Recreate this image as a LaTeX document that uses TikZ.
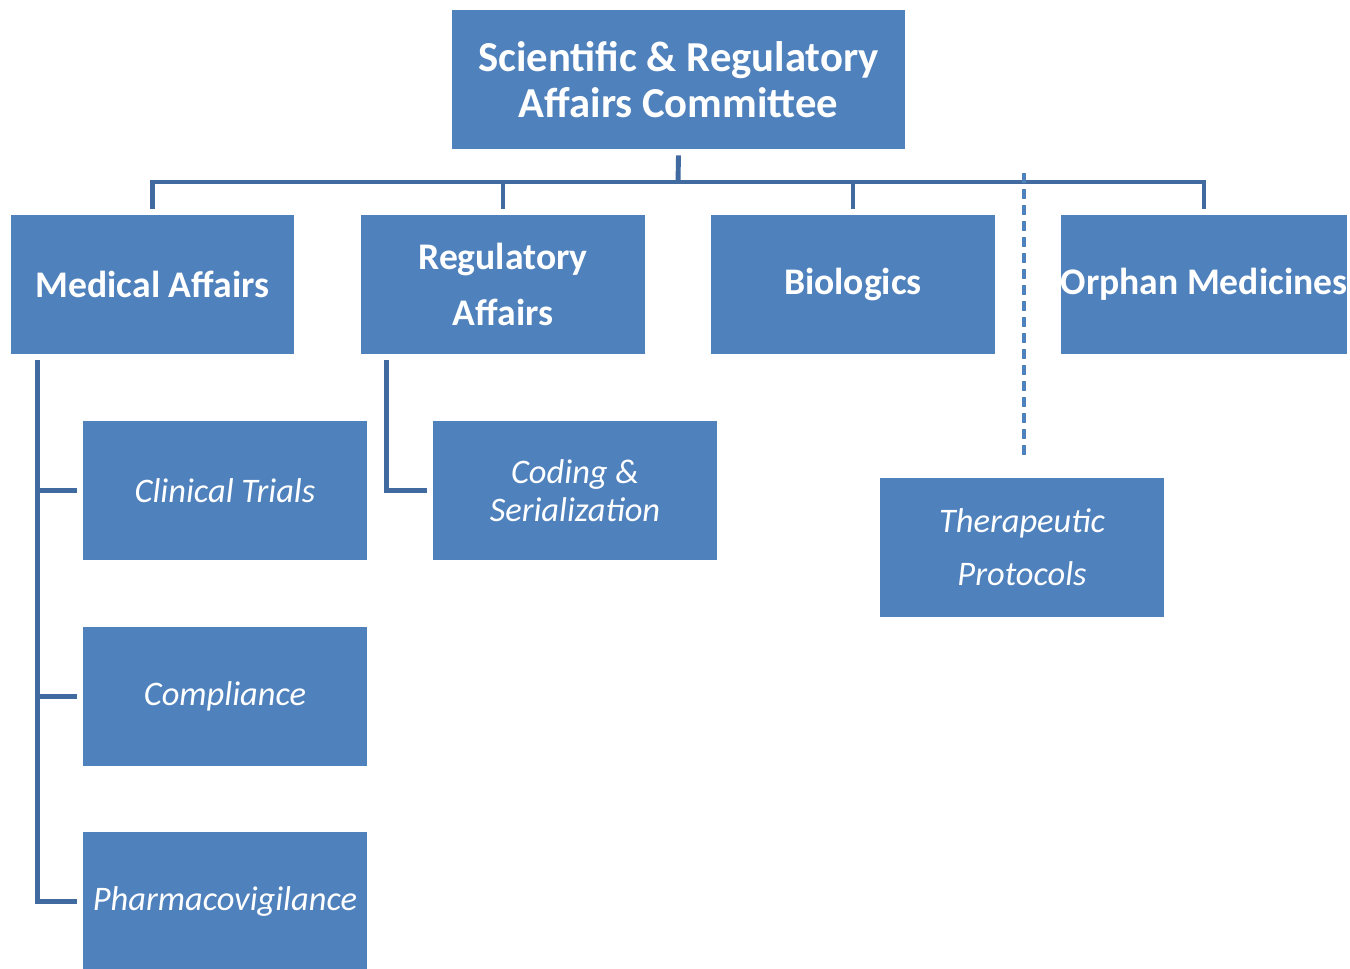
\documentclass[tikz,border=0pt]{standalone}
\usepackage{fontspec}
\setmainfont{Carlito}
\usepackage{tikz}
\usetikzlibrary{positioning}
\definecolor{boxBlue}{RGB}{79,129,189}
\definecolor{lineBlue}{RGB}{65,107,160}

\tikzset{
  unit/.style={fill=boxBlue, text=white,
    minimum width=5.68cm, minimum height=2.78cm, align=center, inner sep=0pt},
  head/.style={unit, font=\bfseries\fontsize{21.4}{25}\selectfont},
  sub/.style={unit, font=\itshape\fontsize{19.6}{23}\selectfont},
  conn/.style={draw=lineBlue, line width=2.8pt},
  dashline/.style={draw=boxBlue, line width=1.8pt, dash pattern=on 0.2cm off 0.12cm}
}

\begin{document}
\begin{tikzpicture}[x=0.02cm, y=-0.02cm]
  \useasboundingbox (0,0) rectangle (1350,969);

  % Committee
  \node[head, minimum width=9.06cm, font=\bfseries\fontsize{24.3}{26.5}\selectfont] (top) at (678.5,79.5)
    {Scientific \& Regulatory\\Affairs Committee};

  % Working groups
  \node[head] (medaff) at (152.5,284.5) {Medical Affairs};
  \node[head, font=\bfseries\fontsize{21.4}{32}\selectfont] (regaff) at (503,284.5) {Regulatory\\Affairs};
  \node[head] (bio) at (853,284.5) {Biologics};
  \node[head] (orphan) at (1204,284.5) {Orphan Medicines};

  % Sub-groups
  \node[sub] (clin) at (225,490.5) {Clinical Trials};
  \node[sub] (compl) at (225,696.5) {Compliance};
  \node[sub] (pharma) at (225,901.5) {Pharmacovigilance};
  \node[sub, font=\itshape\fontsize{19.6}{22}\selectfont] (coding) at (575,490.5) {Coding \&\\Serialization};
  \node[sub, font=\itshape\fontsize{19.6}{30}\selectfont] (thera) at (1022,547.5) {Therapeutic\\Protocols};

  % Tree lines
  \coordinate (bus) at (678,182);
  \draw[conn] ([yshift=-0.12cm]top.south) -- (bus);
  \draw[conn] ([yshift=0.12cm]medaff.north) |- (bus) -| ([yshift=0.12cm]orphan.north);
  \draw[conn] ([yshift=0.12cm]regaff.north) -- (regaff.north |- bus);
  \draw[conn] ([yshift=0.12cm]bio.north) -- (bio.north |- bus);

  % Dashed link
  \coordinate (dtop) at (1024,173);
  \draw[dashline] (dtop) -- ([yshift=0.44cm]dtop |- thera.north);

  % Medical Affairs branch
  \coordinate (mspine) at ([xshift=0.54cm,yshift=-0.12cm]medaff.south west);
  \draw[conn] (mspine) |- ([xshift=-0.12cm]pharma.west);
  \draw[conn] (mspine |- clin.west) -- ([xshift=-0.12cm]clin.west);
  \draw[conn] (mspine |- compl.west) -- ([xshift=-0.12cm]compl.west);

  % Regulatory Affairs branch
  \draw[conn] ([xshift=0.52cm,yshift=-0.12cm]regaff.south west) |- ([xshift=-0.12cm]coding.west);
\end{tikzpicture}
\end{document}
